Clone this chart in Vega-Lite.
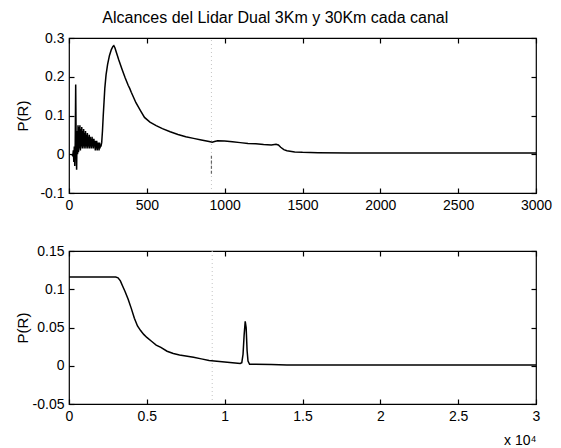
{
  "$schema": "https://vega.github.io/schema/vega-lite/v6.json",
  "background": "white",
  "padding": {"left": 14, "top": 10, "right": 5, "bottom": 0},
  "title": {"text": "Alcances del Lidar Dual 3Km y 30Km cada canal", "fontSize": 16, "font": "Liberation Sans", "fontWeight": "normal", "color": "black", "offset": 4, "anchor": "middle", "dx": -8},
  "datasets": {
    "top": [
      {"r":20,"p":0.0},{"r":24,"p":-0.005},{"r":28,"p":0.01},{"r":31,"p":-0.02},{"r":34,"p":0.02},{"r":37,"p":-0.03},{"r":40,"p":0.03},{"r":43,"p":0.18},{"r":46,"p":0.02},{"r":49,"p":-0.04},{"r":52,"p":0.06},{"r":55,"p":0.0},{"r":58,"p":0.075},{"r":61,"p":0.005},{"r":64,"p":0.07},{"r":67,"p":0.015},{"r":70,"p":0.075},{"r":73,"p":0.01},{"r":76,"p":0.065},{"r":79,"p":0.02},{"r":82,"p":0.07},{"r":85,"p":0.015},{"r":88,"p":0.06},{"r":91,"p":0.02},{"r":94,"p":0.065},{"r":97,"p":0.015},{"r":100,"p":0.055},{"r":103,"p":0.02},{"r":106,"p":0.06},{"r":109,"p":0.015},{"r":112,"p":0.05},{"r":115,"p":0.02},{"r":118,"p":0.055},{"r":121,"p":0.015},{"r":124,"p":0.045},{"r":127,"p":0.02},{"r":130,"p":0.05},{"r":133,"p":0.015},{"r":136,"p":0.045},{"r":139,"p":0.02},{"r":142,"p":0.04},{"r":145,"p":0.015},{"r":148,"p":0.045},{"r":151,"p":0.02},{"r":154,"p":0.04},{"r":157,"p":0.015},{"r":160,"p":0.04},{"r":163,"p":0.02},{"r":166,"p":0.035},{"r":169,"p":0.01},{"r":172,"p":0.035},{"r":175,"p":0.015},{"r":178,"p":0.035},{"r":181,"p":0.01},{"r":184,"p":0.03},{"r":187,"p":0.015},{"r":190,"p":0.03},{"r":193,"p":0.01},{"r":196,"p":0.03},{"r":199,"p":0.015},{"r":202,"p":0.025},{"r":205,"p":0.02},{"r":210,"p":0.03},{"r":215,"p":0.06},{"r":220,"p":0.1},{"r":225,"p":0.135},{"r":230,"p":0.17},{"r":238,"p":0.205},{"r":248,"p":0.232},{"r":260,"p":0.255},{"r":272,"p":0.27},{"r":282,"p":0.278},{"r":288,"p":0.28},{"r":295,"p":0.275},{"r":305,"p":0.262},{"r":320,"p":0.243},{"r":340,"p":0.22},{"r":360,"p":0.198},{"r":380,"p":0.178},{"r":390,"p":0.17},{"r":400,"p":0.16},{"r":430,"p":0.133},{"r":460,"p":0.112},{"r":485,"p":0.095},{"r":520,"p":0.083},{"r":560,"p":0.074},{"r":600,"p":0.066},{"r":650,"p":0.058},{"r":700,"p":0.051},{"r":750,"p":0.045},{"r":800,"p":0.041},{"r":850,"p":0.037},{"r":900,"p":0.033},{"r":920,"p":0.031},{"r":935,"p":0.033},{"r":955,"p":0.035},{"r":1000,"p":0.034},{"r":1050,"p":0.032},{"r":1100,"p":0.03},{"r":1150,"p":0.028},{"r":1200,"p":0.027},{"r":1250,"p":0.025},{"r":1300,"p":0.024},{"r":1330,"p":0.026},{"r":1345,"p":0.024},{"r":1360,"p":0.018},{"r":1380,"p":0.012},{"r":1400,"p":0.009},{"r":1450,"p":0.006},{"r":1500,"p":0.005},{"r":1600,"p":0.004},{"r":1800,"p":0.003},{"r":2000,"p":0.003},{"r":2200,"p":0.003},{"r":2500,"p":0.003},{"r":2800,"p":0.003},{"r":3000,"p":0.003}
    ],
    "bot": [
      {"r":0,"p":0.116},{"r":1000,"p":0.116},{"r":2000,"p":0.116},{"r":3000,"p":0.116},{"r":3150,"p":0.115},{"r":3300,"p":0.111},{"r":3450,"p":0.104},{"r":3600,"p":0.097},{"r":3800,"p":0.087},{"r":4000,"p":0.075},{"r":4200,"p":0.062},{"r":4400,"p":0.052},{"r":4600,"p":0.046},{"r":4800,"p":0.041},{"r":5000,"p":0.037},{"r":5300,"p":0.032},{"r":5600,"p":0.027},{"r":5900,"p":0.024},{"r":6300,"p":0.019},{"r":6700,"p":0.016},{"r":7100,"p":0.014},{"r":7600,"p":0.0125},{"r":8000,"p":0.011},{"r":8500,"p":0.009},{"r":9000,"p":0.007},{"r":9500,"p":0.006},{"r":10000,"p":0.005},{"r":10500,"p":0.004},{"r":11000,"p":0.003},{"r":11100,"p":0.004},{"r":11180,"p":0.015},{"r":11250,"p":0.04},{"r":11320,"p":0.058},{"r":11380,"p":0.05},{"r":11440,"p":0.02},{"r":11500,"p":0.006},{"r":11600,"p":0.002},{"r":12000,"p":0.002},{"r":13000,"p":0.0015},{"r":14000,"p":0.001},{"r":16000,"p":0.001},{"r":18000,"p":0.001},{"r":20000,"p":0.001},{"r":22000,"p":0.001},{"r":24000,"p":0.001},{"r":26000,"p":0.001},{"r":28000,"p":0.001},{"r":30000,"p":0.001}
    ],
    "topFaint": [{"r":915,"y1":-0.1,"y2":0.3}],
    "topDark": [{"r":915,"y1":-0.05,"y2":0.0}],
    "botFaint": [{"r":9200,"y1":-0.05,"y2":0.15}]
  },
  "spacing": 30,
  "vconcat": [
    {
      "width": 467,
      "height": 155,
      "resolve": {"axis": {"x": "independent", "y": "independent"}},
      "layer": [
        {
          "data": {"name": "topFaint"},
          "mark": {"type": "rule", "color": "#c4c4c4", "strokeWidth": 1, "strokeDash": [1, 3]},
          "encoding": {
            "x": {"field": "r", "type": "quantitative", "scale": {"domain": [0, 3000], "nice": false}, "axis": null},
            "y": {"field": "y1", "type": "quantitative", "scale": {"domain": [-0.1, 0.3], "nice": false}, "axis": null},
            "y2": {"field": "y2"}
          }
        },
        {
          "data": {"name": "topDark"},
          "mark": {"type": "rule", "color": "#666666", "strokeWidth": 1.2, "strokeDash": [3, 2]},
          "encoding": {
            "x": {"field": "r", "type": "quantitative", "scale": {"domain": [0, 3000], "nice": false}, "axis": null},
            "y": {"field": "y1", "type": "quantitative", "scale": {"domain": [-0.1, 0.3], "nice": false}, "axis": null},
            "y2": {"field": "y2"}
          }
        },
        {
          "data": {"name": "top"},
          "mark": {"type": "line", "color": "black", "strokeWidth": 1.5},
          "encoding": {
            "x": {"field": "r", "type": "quantitative", "scale": {"domain": [0, 3000], "nice": false},
                  "axis": {"orient": "bottom", "title": null, "values": [0, 500, 1000, 1500, 2000, 2500, 3000], "labelExpr": "toString(datum.value)"}},
            "y": {"field": "p", "type": "quantitative", "scale": {"domain": [-0.1, 0.3], "nice": false},
                  "axis": {"orient": "left", "title": "P(R)", "values": [-0.1, 0, 0.1, 0.2, 0.3], "labelExpr": "toString(round(datum.value*100)/100)", "titleX": -47, "titleBaseline": "middle"}}
          }
        },
        {
          "data": {"name": "top"},
          "mark": {"type": "line", "opacity": 0},
          "encoding": {
            "x": {"field": "r", "type": "quantitative", "scale": {"domain": [0, 3000], "nice": false},
                  "axis": {"orient": "top", "title": null, "labels": false, "values": [0, 500, 1000, 1500, 2000, 2500, 3000]}},
            "y": {"field": "p", "type": "quantitative", "scale": {"domain": [-0.1, 0.3], "nice": false},
                  "axis": {"orient": "right", "title": null, "labels": false, "values": [-0.1, 0, 0.1, 0.2, 0.3]}}
          }
        }
      ]
    },
    {
      "width": 467,
      "height": 153,
      "resolve": {"axis": {"x": "independent", "y": "independent"}},
      "layer": [
        {
          "data": {"name": "botFaint"},
          "mark": {"type": "rule", "color": "#c4c4c4", "strokeWidth": 1, "strokeDash": [1, 3]},
          "encoding": {
            "x": {"field": "r", "type": "quantitative", "scale": {"domain": [0, 30000], "nice": false}, "axis": null},
            "y": {"field": "y1", "type": "quantitative", "scale": {"domain": [-0.05, 0.15], "nice": false}, "axis": null},
            "y2": {"field": "y2"}
          }
        },
        {
          "data": {"name": "bot"},
          "mark": {"type": "line", "color": "black", "strokeWidth": 1.5},
          "encoding": {
            "x": {"field": "r", "type": "quantitative", "scale": {"domain": [0, 30000], "nice": false},
                  "axis": {"orient": "bottom", "title": "x 10⁴", "values": [0, 5000, 10000, 15000, 20000, 25000, 30000], "labelExpr": "toString(datum.value/10000)", "titleX": 467, "titleY": 40, "titleAlign": "right", "titleBaseline": "alphabetic", "titleFontSize": 14}},
            "y": {"field": "p", "type": "quantitative", "scale": {"domain": [-0.05, 0.15], "nice": false},
                  "axis": {"orient": "left", "title": "P(R)", "values": [-0.05, 0, 0.05, 0.1, 0.15], "labelExpr": "toString(round(datum.value*100)/100)", "titleX": -47, "titleBaseline": "middle"}}
          }
        },
        {
          "data": {"name": "bot"},
          "mark": {"type": "line", "opacity": 0},
          "encoding": {
            "x": {"field": "r", "type": "quantitative", "scale": {"domain": [0, 30000], "nice": false},
                  "axis": {"orient": "top", "title": null, "labels": false, "values": [0, 5000, 10000, 15000, 20000, 25000, 30000]}},
            "y": {"field": "p", "type": "quantitative", "scale": {"domain": [-0.05, 0.15], "nice": false},
                  "axis": {"orient": "right", "title": null, "labels": false, "values": [-0.05, 0, 0.05, 0.1, 0.15]}}
          }
        }
      ]
    }
  ],
  "config": {
    "view": {"stroke": "black", "strokeWidth": 1.2},
    "axis": {
      "domain": false,
      "grid": false,
      "ticks": true,
      "tickColor": "black",
      "tickSize": -5,
      "tickWidth": 1.2,
      "labelPadding": 10,
      "labelFont": "Liberation Sans",
      "labelFontSize": 14,
      "labelColor": "black",
      "labelFlush": false,
      "labelOverlap": false,
      "titleFont": "Liberation Sans",
      "titleFontSize": 15,
      "titleFontWeight": "normal",
      "titleColor": "black"
    }
  }
}
